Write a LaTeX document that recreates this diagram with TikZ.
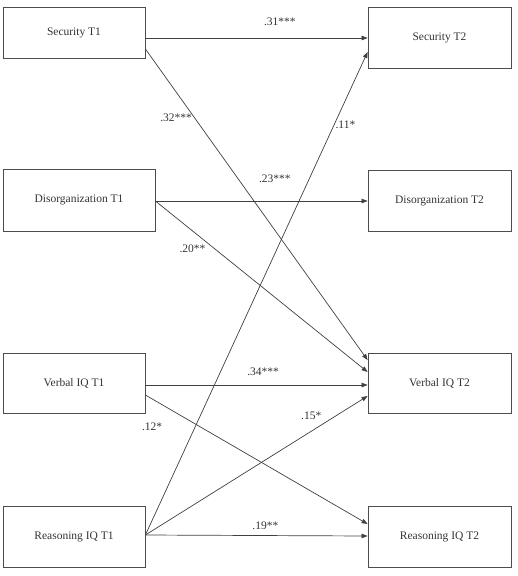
\documentclass[tikz,border=0pt]{standalone}
\usepackage{fontspec}
\setmainfont{Liberation Serif}
\usepackage{tikz}
\usetikzlibrary{arrows.meta,positioning}

\begin{document}
\begin{tikzpicture}[
  x=1pt, y=-1pt,
  var/.style={draw=black!70, line width=0.8pt, minimum width=142pt, minimum height=61pt, inner sep=0pt, font=\fontsize{11.5}{13}\selectfont, text=black!80},
  lbl/.style={font=\fontsize{11.5}{13}\selectfont, text=black!80, inner sep=0pt},
  arr/.style={-{Triangle[length=6pt, width=4.5pt]}, line width=0.7pt, black!75}
]
  \useasboundingbox (0,0) rectangle (518,576);

  % Time 1
  \node[var, minimum height=51pt] (sec1) at (74,32.5) {Security T1};
  \node[var, minimum width=152pt, minimum height=62pt] (dis1) at (79,200) {Disorganization T1};
  \node[var, minimum height=60pt] (verb1) at (74,383) {Verbal IQ T1};
  \node[var] (reas1) at (74,536.5) {Reasoning IQ T1};

  % Time 2
  \node[var, minimum width=143pt] (sec2) at (439.5,37.5) {Security T2};
  \node[var, minimum width=143pt] (dis2) at (439.5,200.5) {Disorganization T2};
  \node[var, minimum width=143pt, minimum height=60pt] (verb2) at (439.5,383) {Verbal IQ T2};
  \node[var, minimum width=143pt] (reas2) at (439.5,536.5) {Reasoning IQ T2};

  % Arrows
  \draw[arr] ([yshift=-5.5pt]sec1.east) -- node[lbl, pos=0.605, above=12pt] {.31***} ([yshift=-0.5pt]sec2.west);
  \draw[arr] ([yshift=-16.5pt]sec1.east) -- node[lbl, pos=0.22, left=2pt] {.32***} ([yshift=23pt]verb2.west);
  \draw[arr] ([yshift=-1pt]dis1.east) -- node[lbl, pos=0.563, above=18pt] {.23***} ([yshift=-0.5pt]dis2.west);
  \draw[arr] ([yshift=-1pt]dis1.east) -- node[lbl, pos=0.28, left=9pt] {.20**} ([yshift=11pt]verb2.west);
  \draw[arr] ([yshift=-2pt]verb1.east) -- node[lbl, pos=0.53, above=9pt] {.34***} ([yshift=-2pt]verb2.west);
  \draw[arr] ([yshift=-12pt]verb1.east) -- node[lbl, pos=0.03, below=24pt] {.12*} ([yshift=12.5pt]reas2.west);
  \draw[arr] ([yshift=1.5pt]reas1.east) -- node[lbl, pos=0.85, right=1pt] {.11*} ([yshift=-14.5pt]sec2.west);
  \draw[arr] ([yshift=1.5pt]reas1.east) -- node[lbl, pos=0.856, left=14pt] {.15*} ([yshift=-13pt]verb2.west);
  \draw[arr] ([yshift=1.5pt]reas1.east) -- node[lbl, pos=0.54, above=6pt] {.19**} ([yshift=0.5pt]reas2.west);
\end{tikzpicture}
\end{document}
